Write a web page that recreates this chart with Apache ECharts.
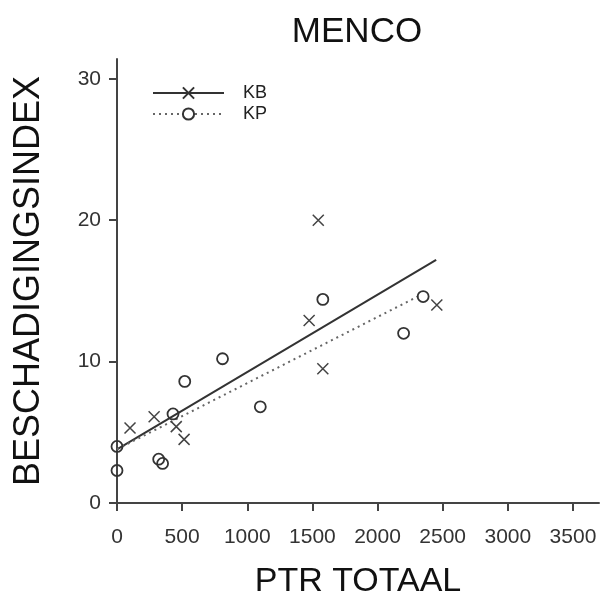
<!DOCTYPE html>
<html lang="nl">

<head>
    <meta charset="UTF-8">
    <title>MENCO</title>
    <style>
        html, body {
            margin: 0;
            padding: 0;
            background: #fff;
        }

        #chart {
            width: 602px;
            height: 598px;
        }
    </style>
</head>

<body>
    <div id="chart"></div>
</body>
<script src="https://cdn.jsdelivr.net/npm/echarts@6/dist/echarts.min.js"></script>
<script>
    // KB punten (kruisjes)
    const kbX = [100, 285, 455, 515, 1475, 1545, 1580, 2455];
    const kbY = [5.3, 6.1, 5.4, 4.5, 12.9, 20.0, 9.5, 14.0];
    // KP punten (rondjes)
    const kpX = [0, 0, 320, 350, 430, 520, 810, 1100, 1580, 2200, 2350];
    const kpY = [2.3, 4.0, 3.1, 2.8, 6.3, 8.6, 10.2, 6.8, 14.4, 12.0, 14.6];
    // regressielijnen (begin- en eindpunt)
    const kbFitX = [0, 2450];
    const kbFitY = [3.8, 17.2];
    const kpFitX = [0, 2330];
    const kpFitY = [3.8, 14.7];
    // as labels
    const xTicks = [0, 500, 1000, 1500, 2000, 2500, 3000, 3500];
    const yTicks = [0, 10, 20, 30];

    const font = 'Liberation Sans, Arial, sans-serif';
    const crossPath = 'path://M0,0L10,10M10,0L0,10';
    const zip = (xs, ys) => xs.map((x, i) => [x, ys[i]]);

    const chart = echarts.init(document.getElementById('chart'));
    const option = {
        animation: false,
        title: {
            text: 'MENCO',
            left: 352,
            textAlign: 'center',
            top: 10,
            textStyle: { fontFamily: font, fontSize: 35, fontWeight: 'normal', color: '#111' }
        },
        legend: {
            orient: 'vertical',
            left: 147,
            top: 79,
            itemWidth: 71,
            itemHeight: 14,
            itemGap: 3,
            data: ['KB', 'KP'],
            textStyle: { fontFamily: font, fontSize: 18, color: '#222', padding: [0, 0, 0, 14] }
        },
        grid: { left: 117, right: 3, top: 59, bottom: 95, outerBoundsMode: 'none', containLabel: false },
        xAxis: {
            type: 'value',
            min: 0,
            max: 3700,
            interval: 500,
            name: 'PTR TOTAAL',
            nameLocation: 'middle',
            nameGap: 62,
            nameTextStyle: { fontFamily: font, fontSize: 34, color: '#111' },
            splitLine: { show: false },
            axisLine: { lineStyle: { color: '#444', width: 2 } },
            axisTick: { show: true, length: 8, customValues: xTicks, lineStyle: { color: '#444', width: 2 } },
            axisLabel: {
                customValues: xTicks, margin: 24, fontFamily: font, fontSize: 21, color: '#333',
                formatter: v => String(v)
            }
        },
        yAxis: {
            type: 'value',
            min: 0,
            max: 31.4,
            interval: 10,
            name: 'BESCHADIGINGSINDEX',
            nameLocation: 'middle',
            nameGap: 70,
            nameTextStyle: { fontFamily: font, fontSize: 36, color: '#111' },
            splitLine: { show: false },
            axisLine: { show: true, lineStyle: { color: '#444', width: 2 } },
            axisTick: { show: true, length: 8, customValues: yTicks, lineStyle: { color: '#444', width: 2 } },
            axisLabel: {
                customValues: yTicks, margin: 16, fontFamily: font, fontSize: 21, color: '#333',
                formatter: v => String(v)
            }
        },
        series: [
            {
                name: 'KB',
                type: 'line',
                data: zip(kbFitX, kbFitY),
                showSymbol: false,
                symbol: crossPath,
                symbolSize: 11,
                itemStyle: { color: '#fff', borderColor: '#333', borderWidth: 1.5 },
                lineStyle: { color: '#333', width: 2, type: 'solid' },
                z: 3
            },
            {
                name: 'KP',
                type: 'line',
                data: zip(kpFitX, kpFitY),
                showSymbol: false,
                symbol: 'circle',
                symbolSize: 11,
                itemStyle: { color: '#fff', borderColor: '#333', borderWidth: 1.5 },
                lineStyle: { color: '#666', width: 2, type: [2, 4] },
                z: 3
            },
            {
                name: 'KB',
                type: 'scatter',
                data: zip(kbX, kbY),
                symbol: crossPath,
                symbolSize: 11,
                itemStyle: { color: 'none', borderColor: '#444', borderWidth: 1.5, opacity: 1 },
                z: 4
            },
            {
                name: 'KP',
                type: 'scatter',
                data: zip(kpX, kpY),
                symbol: 'circle',
                symbolSize: 11,
                clip: false,
                itemStyle: { color: 'none', borderColor: '#333', borderWidth: 1.8, opacity: 1 },
                z: 4
            }
        ]
    };
    chart.setOption(option);
</script>

</html>
